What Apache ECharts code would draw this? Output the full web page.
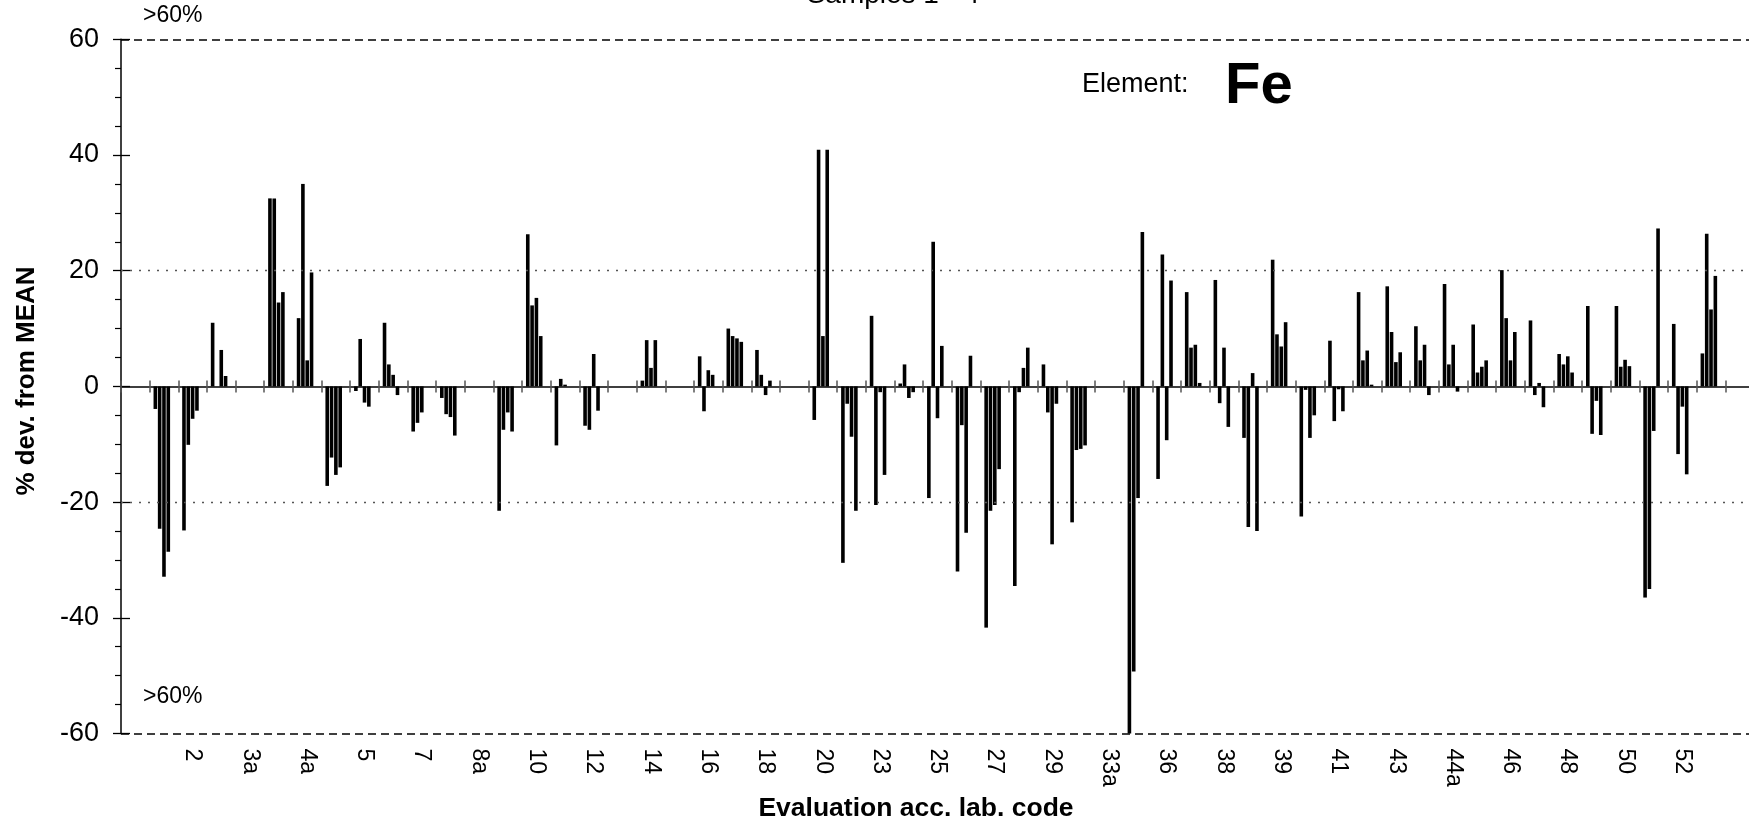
<!DOCTYPE html>
<html><head><meta charset="utf-8">
<script src="https://cdn.jsdelivr.net/npm/echarts@6/dist/echarts.min.js"></script>
<style>html,body{margin:0;padding:0;background:#fff}#c{width:1749px;height:830px}</style>
</head><body><div id="c"></div>
<script>
// lab codes (first and last are empty padding slots of the category axis)
const labs = ["", "1","2","3","3a","4","4a","4b","5","6",
  "7","8","8a","9","10","11","12","13","14","15",
  "16","17","18","19","20","22","23","24","25","26",
  "27","28","29","31","33a","35","36","37","38","38a",
  "39","40","41","42","43","44","44a","45","46","47",
  "48","49","50","51","52","53",""];

const sample1 = [null,-3.9,-24.9,11,null,32.5,11.8,-17.2,-0.8,11,
  -7.8,-2,null,-21.5,26.3,-10.2,-6.8,null,1,null,
  5.2,10,6.3,null,-5.8,-30.5,12.2,0.5,-19.3,-32,
  -41.7,-34.5,3.8,-23.5,null,-60,-16,16.3,18.4,-8.9,
  21.9,-22.5,7.9,16.3,17.3,10.4,17.7,10.7,20.1,11.4,
  5.6,13.9,13.9,-36.5,10.8,5.7,null];
const sample2 = [null,-24.6,-10.1,null,null,32.5,35,-12.3,8.2,3.8,
  -6.3,-4.8,null,-7.5,14,1.3,-7.5,null,8,null,
  -4.3,8.7,2,null,40.9,-3,-20.5,3.8,25,-6.7,
  -21.5,-1,-4.5,-11,null,-49.3,22.8,6.7,-2.9,-24.3,
  9.0,-0.6,-6.0,4.5,9.4,4.5,3.8,2.4,11.8,-1.5,
  3.8,-8.2,3.4,-35,-11.7,26.4,null];
const sample3 = [null,-32.9,-5.6,6.3,null,14.5,4.5,-15.3,-2.8,2,
  -4.5,-5.3,null,-4.5,15.3,0.3,5.6,null,3.2,null,
  2.8,8.3,-1.5,null,8.7,-8.7,-1,-2,-5.5,-25.3,
  -20.5,3.2,-27.3,-10.8,null,-19.3,-9.3,7.2,6.7,2.3,
  6.9,-8.9,-0.5,6.2,4.2,7.2,7.2,3.4,4.5,0.6,
  5.2,-2.5,4.6,-7.7,-3.5,13.3,null];
const sample4 = [null,-28.6,-4.2,1.8,null,16.3,19.7,-14,-3.5,-1.5,
  null,-8.5,null,-7.8,8.7,null,-4.2,null,8,null,
  2,7.7,1,null,40.9,-21.5,-15.3,-1,7,5.3,
  -14.3,6.7,-3,-10.2,null,26.7,18.3,0.6,-7,-25,
  11.1,-5.0,-4.3,0.3,5.9,-1.5,-0.9,4.5,9.4,-3.6,
  2.4,-8.4,3.5,27.3,-15.2,19.1,null];
// the source chart reserves a fifth (unplotted) sample slot in each group
const sample5 = [];

const yTicks = {min: -60, max: 60, step: 20};
const limitLines = [60, -60];
const warnLines = [20, -20];

const FONT = '"Liberation Sans", Arial, sans-serif';
const chart = echarts.init(document.getElementById('c'), null, {renderer: 'canvas'});

function barSeries(name, data, withLines) {
  const s = {
    name, type: 'bar', data, xAxisIndex: 0, yAxisIndex: 0,
    barWidth: 3.6, barGap: '20%', silent: true,
    itemStyle: {color: '#000'}
  };
  if (withLines) {
    s.markLine = {
      silent: true, symbol: 'none', label: {show: false}, animation: false,
      data: limitLines.map(v => ({yAxis: v, lineStyle: {type: [8, 5], color: '#000', width: 1.5}}))
        .concat(warnLines.map(v => ({yAxis: v, lineStyle: {type: [2, 7], color: '#555', width: 1.3}})))
    };
  }
  return s;
}

chart.setOption({
  animation: false,
  backgroundColor: '#fff',
  textStyle: {fontFamily: FONT},
  grid: {left: 121, top: 39.3, width: 1633, height: 694.2, containLabel: false, outerBoundsMode: 'none'},
  xAxis: [
    {type: 'category', data: labs, position: 'bottom',
     axisLine: {show: false, onZero: false}, axisTick: {show: false},
     axisLabel: {interval: 1, rotate: -90, margin: 15, fontSize: 23, color: '#000', fontFamily: FONT}},
    {type: 'category', data: labs, position: 'bottom',
     axisLine: {show: true, onZero: true, onZeroAxisIndex: 0, lineStyle: {color: '#000', width: 1.5}},
     axisTick: {show: true, interval: 0, length: 6, lineStyle: {color: '#555', width: 1.5}},
     axisLabel: {show: false}},
    {type: 'category', data: labs, position: 'top',
     axisLine: {show: false, onZero: true, onZeroAxisIndex: 1},
     axisTick: {show: true, interval: 0, length: 6, lineStyle: {color: '#555', width: 1.5}},
     axisLabel: {show: false}}
  ],
  yAxis: [
    {type: 'value', min: yTicks.min, max: yTicks.max, interval: yTicks.step, position: 'left',
     axisLine: {show: true, lineStyle: {color: '#000', width: 1.5}},
     axisTick: {show: true, length: 8, lineStyle: {color: '#000', width: 1.3}},
     minorTick: {show: true, splitNumber: 4, length: 6, lineStyle: {color: '#000', width: 1.2}},
     splitLine: {show: false},
     axisLabel: {margin: 22, fontSize: 27, color: '#000', fontFamily: FONT}},
    {type: 'value', min: yTicks.min, max: yTicks.max, interval: yTicks.step, position: 'left',
     axisLine: {show: false},
     axisTick: {show: true, inside: true, length: 9, lineStyle: {color: '#000', width: 1.3}},
     splitLine: {show: false}, axisLabel: {show: false}}
  ],
  series: [
    barSeries('Sample 1', sample1, true),
    barSeries('Sample 2', sample2, false),
    barSeries('Sample 3', sample3, false),
    barSeries('Sample 4', sample4, false),
    barSeries('Sample 5', sample5, false)
  ],
  graphic: [
    {type: 'text', x: 893, y: 9, style: {text: 'Samples 1 - 4', font: '28px ' + FONT, fill: '#000', textAlign: 'center', textVerticalAlign: 'bottom'}},
    {type: 'text', x: 143, y: 16, style: {text: '>60%', font: '23px ' + FONT, fill: '#000', textAlign: 'left', textVerticalAlign: 'middle'}},
    {type: 'text', x: 143, y: 697, style: {text: '>60%', font: '23px ' + FONT, fill: '#000', textAlign: 'left', textVerticalAlign: 'middle'}},
    {type: 'text', x: 1082, y: 85, style: {text: 'Element:', font: '27px ' + FONT, fill: '#000', textAlign: 'left', textVerticalAlign: 'middle'}},
    {type: 'text', x: 1225, y: 87, style: {text: 'Fe', font: 'bold 58px ' + FONT, fill: '#000', textAlign: 'left', textVerticalAlign: 'middle'}},
    {type: 'text', x: 916, y: 809, style: {text: 'Evaluation acc. lab. code', font: 'bold 26.5px ' + FONT, fill: '#000', textAlign: 'center', textVerticalAlign: 'middle'}},
    {type: 'text', x: 27, y: 381, rotation: Math.PI / 2, style: {text: '% dev. from MEAN', font: 'bold 26px ' + FONT, fill: '#000', textAlign: 'center', textVerticalAlign: 'middle'}}
  ]
});
</script>
</body></html>
